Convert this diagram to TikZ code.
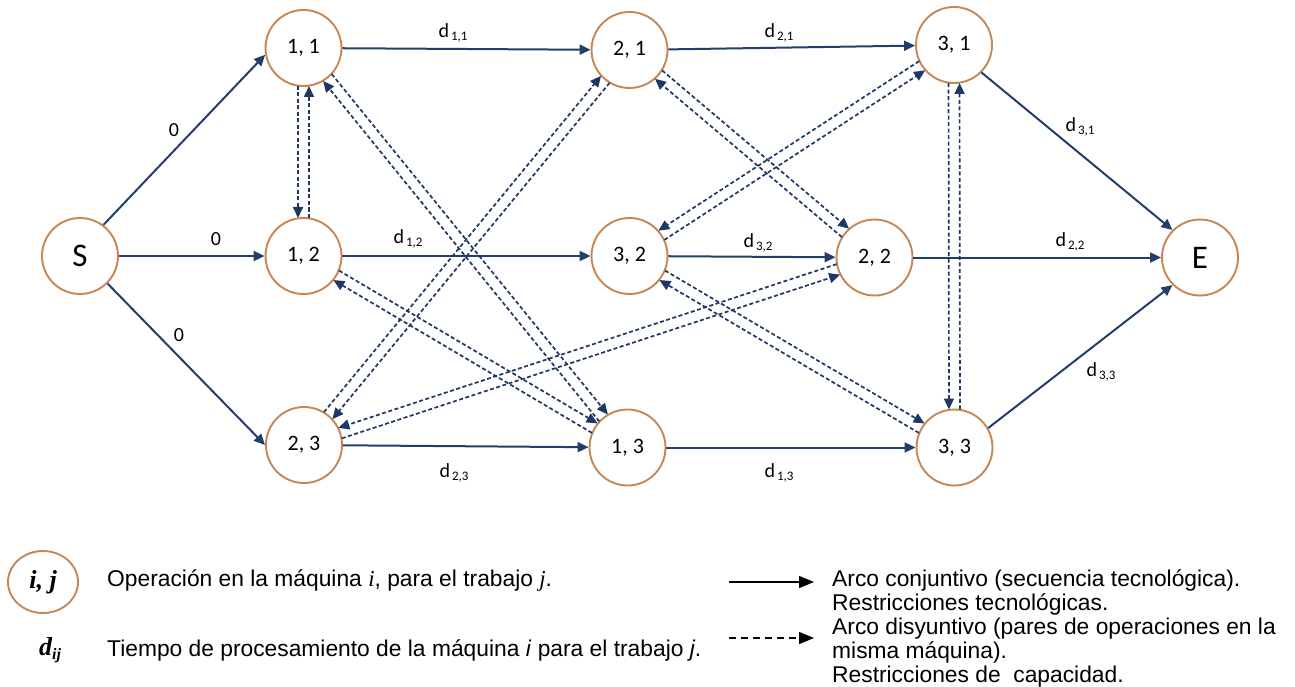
\documentclass[tikz,border=0pt]{standalone}
\usepackage{fontspec}
\setmainfont{Carlito}
\newfontfamily\legfont{Liberation Sans}
\newfontfamily\serfont{Liberation Serif}
\usetikzlibrary{arrows.meta,calc,shapes.geometric}
\definecolor{nodeor}{RGB}{196,135,85}
\definecolor{arcblue}{RGB}{36,62,106}
\definecolor{disblue}{RGB}{30,55,100}
\tikzset{
  op/.style={circle, draw=nodeor, line width=1.9pt, fill=white, minimum size=76pt, inner sep=0pt, font=\fontsize{22}{22}\selectfont},
  term/.style={op, font=\fontsize{33}{33}\selectfont},
  conj/.style={draw=arcblue, line width=2pt, -{Triangle[length=11pt,width=10pt]}},
  dis/.style={draw=disblue, line width=1.7pt, dash pattern=on 4pt off 2.5pt, -{Triangle[length=11pt,width=10pt]}, shorten <=38pt, shorten >=38pt},
  lab/.style={font=\fontsize{20}{20}\selectfont, inner sep=0pt},
  legtext/.style={anchor=base west, inner sep=0pt, font=\legfont\fontsize{22.8}{22.8}\selectfont},
  legarrow/.style={draw=black, line width=1.4pt, -{Triangle[length=15pt,width=12pt]}},
}
\newcommand\dl[1]{d\hspace{2pt}{\fontsize{13}{13}\selectfont\raisebox{-3pt}{#1}}}
\newcommand\dpair[4]{%
  \draw[dis] ($(#1)!5.5pt!#3:(#2)$) -- ($(#2)!5.5pt!#4:(#1)$);
  \draw[dis] ($(#2)!5.5pt!#3:(#1)$) -- ($(#1)!5.5pt!#4:(#2)$);
}
\begin{document}
\begin{tikzpicture}[x=1pt,y=-1pt]
\useasboundingbox (0,0) rectangle (1295,687);
% nodes
\node[term] (S) at (80,256) {S};
\node[op] (n11) at (303.5,48) {1, 1};
\node[op] (n12) at (303.5,256) {1, 2};
\node[op] (n23) at (304,445) {2, 3};
\node[op] (n21) at (629.5,50) {2, 1};
\node[op] (n32) at (629.5,256) {3, 2};
\node[op] (n13) at (627.5,447.5) {1, 3};
\node[op] (n22) at (874.5,257.5) {2, 2};
\node[op] (n31) at (954,45) {3, 1};
\node[op] (n33) at (954.5,447.5) {3, 3};
\node[term] (E) at (1200,257.5) {E};
% conjunctive arcs
\draw[conj] (S.53) -- (n11.190);
\draw[conj] (S) -- (n12);
\draw[conj] (S.-45) -- (n23.180);
\draw[conj] (n11) -- (n21);
\draw[conj] (n21) -- (n31);
\draw[conj] (n31.-45) -- (E.135);
\draw[conj] (n12) -- (n32);
\draw[conj] (n32) -- (n22);
\draw[conj] (n22) -- (E);
\draw[conj] (n23) -- (n13);
\draw[conj] (n13) -- (n33);
\draw[conj] (n33.30) -- (E.225);
% disjunctive arcs
\dpair{n11}{n12}{-90}{90}
\dpair{n11}{n13}{90}{-90}
\dpair{n12}{n13}{90}{-90}
\dpair{n21}{n23}{90}{-90}
\dpair{n21}{n22}{90}{-90}
\dpair{n22}{n23}{-90}{90}
\dpair{n31}{n32}{-90}{90}
\dpair{n31}{n33}{-90}{90}
\dpair{n32}{n33}{90}{-90}
% arc labels
\node[lab] (z1) at (174,130) {0};
\node[lab] (z2) at (216,239) {0};
\node[lab] (z3) at (179,335) {0};
\node[lab] (l11) at (453,33) {\dl{1,1}};
\node[lab] (l21) at (779,33) {\dl{2,1}};
\node[lab] (l12) at (408,239) {\dl{1,2}};
\node[lab] (l32) at (758,243) {\dl{3,2}};
\node[lab] (l31) at (1080,127) {\dl{3,1}};
\node[lab] (l22) at (1070,242) {\dl{2,2}};
\node[lab] (l23) at (454,473) {\dl{2,3}};
\node[lab] (l13) at (779,473) {\dl{1,3}};
\node[lab] (l33) at (1101,372) {\dl{3,3}};
% legend left
\node[ellipse, draw=nodeor, line width=1.9pt, minimum width=70pt, minimum height=62pt, inner sep=0pt, font=\serfont\bfseries\itshape\fontsize{26}{26}\selectfont] (leg1) at (43,582) {i, j};
\node[legtext] (t1) at (107,586) {Operación en la máquina {\serfont\itshape i}, para el trabajo {\serfont\itshape j}.};
\node[inner sep=0pt, font=\serfont\bfseries\itshape\fontsize{26}{26}\selectfont] (leg2) at (50,650) {d{\fontsize{16}{16}\selectfont\raisebox{-4pt}{ij}}};
\node[legtext] (t2) at (107,656) {Tiempo de procesamiento de la máquina \textit{i} para el trabajo \textit{j}.};
% legend right
\coordinate (a1) at (729,582);
\coordinate (a2) at (814,582);
\coordinate (b1) at (729,638);
\coordinate (b2) at (814,638);
\draw[legarrow] (a1) -- (a2);
\draw[legarrow, dash pattern=on 7pt off 5pt] (b1) -- (b2);
\node[legtext] (r1) at (832,586) {Arco conjuntivo (secuencia tecnológica).};
\node[legtext] (r2) at (832,610) {Restricciones tecnológicas.};
\node[legtext] (r3) at (832,634) {Arco disyuntivo (pares de operaciones en la};
\node[legtext] (r4) at (832,658) {misma máquina).};
\node[legtext] (r5) at (832,682) {Restricciones de\ \ capacidad.};
\end{tikzpicture}
\end{document}
